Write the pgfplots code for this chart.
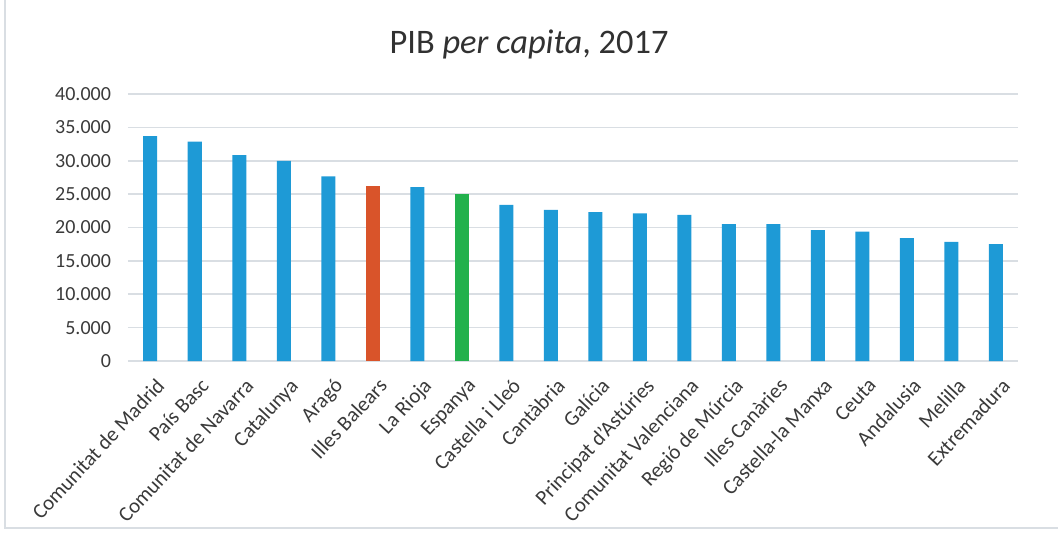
\documentclass[border=0pt]{standalone}
\usepackage{fontspec}
\setmainfont{Carlito}
\usepackage{pgfplots}
\pgfplotsset{compat=1.18}

\definecolor{barblue}{HTML}{1E9AD6}
\definecolor{barorange}{HTML}{D9542A}
\definecolor{bargreen}{HTML}{22B14C}
\definecolor{gridc}{HTML}{D9DEE3}
\definecolor{txt}{HTML}{3A3A3A}

\begin{document}
\begin{tikzpicture}
% page frame: 1 px of the reference = 0.5 pt
\useasboundingbox (-64pt,-85.5pt) rectangle (465pt,180.5pt);
\draw[gridc, line width=0.8pt] (-61.5pt,180.5pt) -- (-61.5pt,-83.5pt) -- (465pt,-83.5pt);
\node[font=\fontsize{17.2}{20}\selectfont, color=txt!85!black] at (200.5pt,158.5pt) {PIB \textit{per capita}, 2017};
\begin{axis}[
  scale only axis, width=445pt, height=133.5pt,
  ybar, bar width=7pt,
  xmin=-0.5, xmax=19.5, ymin=0, ymax=40000,
  ytick={0,5000,...,40000},
  xtick={0,...,19},
  xticklabels={Comunitat de Madrid, País Basc, Comunitat de Navarra, Catalunya, Aragó, Illes Balears, La Rioja, Espanya, Castella i Lleó, Cantàbria, Galícia, Principat d'Astúries, Comunitat Valenciana, Regió de Múrcia, Illes Canàries, Castella-la Manxa, Ceuta, Andalusia, Melilla, Extremadura},
  x tick label style={rotate=47, anchor=north east, font=\fontsize{10.5}{12.5}\selectfont, color=txt, inner sep=1pt, yshift=-6pt, xshift=-3pt},
  y tick label style={font=\fontsize{10}{12}\selectfont, color=txt, xshift=-5pt},
  /pgf/number format/.cd, 1000 sep={.}, assume math mode=true, /pgfplots/.cd,
  scaled y ticks=false,
  axis line style={draw=none},
  major tick length=0pt,
  ymajorgrids, grid style={gridc, line width=0.8pt},
]
\addplot[fill=barblue, draw=none, bar shift=0pt] coordinates {
(0,33700) (1,32850) (2,30850) (3,30000) (4,27650) (6,26050)
(8,23400) (9,22650) (10,22300) (11,22100) (12,21900) (13,20500)
(14,20500) (15,19600) (16,19400) (17,18400) (18,17850) (19,17500)};
\addplot[fill=barorange, draw=none, bar shift=0pt] coordinates {(5,26200)};
\addplot[fill=bargreen, draw=none, bar shift=0pt] coordinates {(7,25000)};
\end{axis}
\end{tikzpicture}
\end{document}
